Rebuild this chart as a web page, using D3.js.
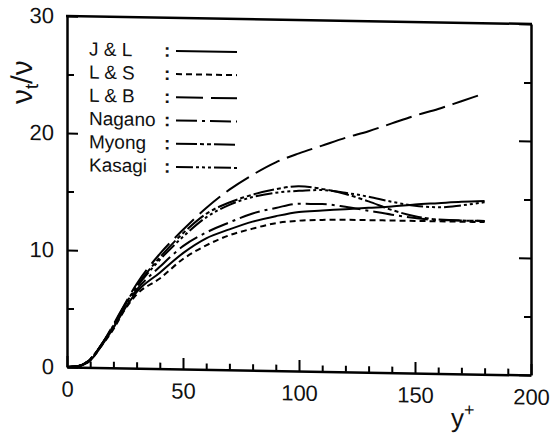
<!DOCTYPE html>
<html>
<head>
<meta charset="utf-8">
<script src="https://cdn.jsdelivr.net/npm/d3@7"></script>
<style>
  body { margin: 0; background: #fff; }
  text { font-family: "Liberation Sans", Arial, sans-serif; fill: #111; }
</style>
</head>
<body>
<script>
const yPlus = [0, 5, 10, 15, 20, 25, 30, 40, 50, 60, 70, 80, 90, 100, 110, 120, 130, 140, 150, 160, 170, 180];

const jlValues     = [0, 0.1, 0.6, 1.9, 3.4, 5.1, 6.5, 8.2, 9.9, 11.2, 12.0, 12.7, 13.2, 13.6, 13.75, 13.9, 14.05, 14.2, 14.4, 14.55, 14.7, 14.8];
const lsValues     = [0, 0.1, 0.6, 1.9, 3.3, 5.0, 6.3, 7.7, 9.4, 10.6, 11.5, 12.1, 12.6, 12.85, 12.95, 13.0, 13.0, 13.0, 13.0, 13.0, 13.0, 13.0];
const lbValues     = [0, 0.1, 0.7, 2.0, 3.7, 5.5, 7.2, 9.8, 11.9, 13.8, 15.4, 16.7, 17.8, 18.6, 19.3, 20.0, 20.6, 21.3, 22.0, 22.6, 23.3, 24.0];
const naganoValues = [0, 0.1, 0.7, 2.0, 3.5, 5.3, 6.7, 8.7, 10.5, 11.7, 12.6, 13.4, 13.9, 14.3, 14.3, 14.1, 13.8, 13.5, 13.25, 13.1, 13.1, 13.1];
const myongValues  = [0, 0.1, 0.7, 2.0, 3.6, 5.4, 7.0, 9.5, 11.6, 13.3, 14.3, 15.0, 15.5, 15.8, 15.6, 15.2, 14.6, 13.9, 13.4, 13.15, 13.1, 13.1];
const kasagiValues = [0, 0.1, 0.7, 2.0, 3.6, 5.4, 6.9, 9.3, 11.3, 13.0, 14.1, 14.8, 15.2, 15.4, 15.5, 15.3, 15.0, 14.6, 14.3, 14.2, 14.4, 14.7];

const seriesNames = ["J & L", "L & S", "L & B", "Nagano", "Myong", "Kasagi"];
const seriesValues = [jlValues, lsValues, lbValues, naganoValues, myongValues, kasagiValues];

const xLabels = [0, 50, 100, 150, 200];
const yLabels = [0, 10, 20, 30];

// dash pattern per series, same order as seriesNames
const dashes = ["none", "6,4", "27,8", "21,5,3,5", "21,3,4,3,4,3", "17,3,3,3,3,3,3,3"];

const main = () => {
  const width = 559, height = 434;
  const x = d3.scaleLinear().domain([0, 200]).range([67, 531]);
  const y = d3.scaleLinear().domain([0, 30]).range([367, 16]);

  const svg = d3.select("body")
    .append("svg")
    .attr("width", width)
    .attr("height", height);

  // the scanned figure is slightly sheared
  const g = svg.append("g")
    .attr("transform", "translate(67,0) skewY(0.99) translate(-67,0)");

  // bottom axis, inward ticks
  const xAxis = g.append("g")
    .attr("transform", `translate(0,${y(0)})`)
    .call(d3.axisBottom(x)
      .tickValues(d3.range(0, 201, 10))
      .tickSizeInner(-6)
      .tickSizeOuter(0)
      .tickPadding(14)
      .tickFormat(d => xLabels.includes(d) ? d : ""));
  xAxis.selectAll(".tick line")
    .attr("y2", d => d % 50 === 0 ? -11 : -6)
    .attr("stroke-width", 2);

  // left axis
  const yAxis = g.append("g")
    .attr("transform", `translate(${x(0)},0)`)
    .call(d3.axisLeft(y)
      .tickValues(d3.range(0, 31, 5))
      .tickSizeInner(-7)
      .tickSizeOuter(0)
      .tickPadding(13)
      .tickFormat(d => yLabels.includes(d) ? d : ""));
  yAxis.selectAll(".tick line")
    .attr("x2", d => d % 10 === 0 ? 11 : 7)
    .attr("stroke-width", 2);

  // right axis, ticks only
  const rAxis = g.append("g")
    .attr("transform", `translate(${x(200)},0)`)
    .call(d3.axisRight(y)
      .tickValues(d3.range(0, 31, 5))
      .tickSizeInner(-7)
      .tickSizeOuter(0)
      .tickFormat(""));
  rAxis.selectAll(".tick line")
    .attr("x2", d => d % 10 === 0 ? -12 : -7)
    .attr("stroke-width", 2);

  g.selectAll(".domain").attr("stroke-width", 2.5);
  g.selectAll(".tick text").style("font-size", "22px");

  // top border
  g.append("line")
    .attr("x1", x(0) - 1)
    .attr("x2", x(200) + 1)
    .attr("y1", y(30))
    .attr("y2", y(30))
    .attr("stroke", "#000")
    .attr("stroke-width", 2.5);

  // curves
  const line = d3.line()
    .x((d, i) => x(yPlus[i]))
    .y(d => y(d))
    .curve(d3.curveMonotoneX);

  g.selectAll(".curve")
    .data(seriesValues)
    .enter()
    .append("path")
    .attr("class", "curve")
    .attr("d", d => line(d))
    .attr("fill", "none")
    .attr("stroke", "#000")
    .attr("stroke-width", 2)
    .attr("stroke-dasharray", (d, i) => dashes[i]);

  // legend
  const legend = g.selectAll(".legend")
    .data(seriesNames)
    .enter()
    .append("g")
    .attr("class", "legend")
    .attr("transform", (d, i) => `translate(0,${55 + i * 23.2})`);

  legend.append("text")
    .attr("x", 89)
    .style("font-size", "19px")
    .text(d => d);

  legend.append("text")
    .attr("x", 164)
    .style("font-size", "19px")
    .style("font-weight", "bold")
    .text(":");

  legend.append("line")
    .attr("x1", 176)
    .attr("x2", 237)
    .attr("y1", -6)
    .attr("y2", -6)
    .attr("stroke", "#000")
    .attr("stroke-width", 2)
    .attr("stroke-dasharray", (d, i) => dashes[i]);

  // axis titles
  const yTitle = g.append("text")
    .attr("transform", "translate(32,83) rotate(-90)")
    .attr("text-anchor", "middle")
    .style("font-size", "30px");
  yTitle.append("tspan").text("ν");
  yTitle.append("tspan").attr("dy", 6).style("font-size", "19px").text("t");
  yTitle.append("tspan").attr("dy", -6).text("/ν");

  const xTitle = g.append("text")
    .attr("x", 451)
    .attr("y", 420)
    .style("font-size", "26px");
  xTitle.append("tspan").text("y");
  xTitle.append("tspan").attr("dy", -11).style("font-size", "18px").text("+");
};

window.onload = main;
</script>
</body>
</html>
